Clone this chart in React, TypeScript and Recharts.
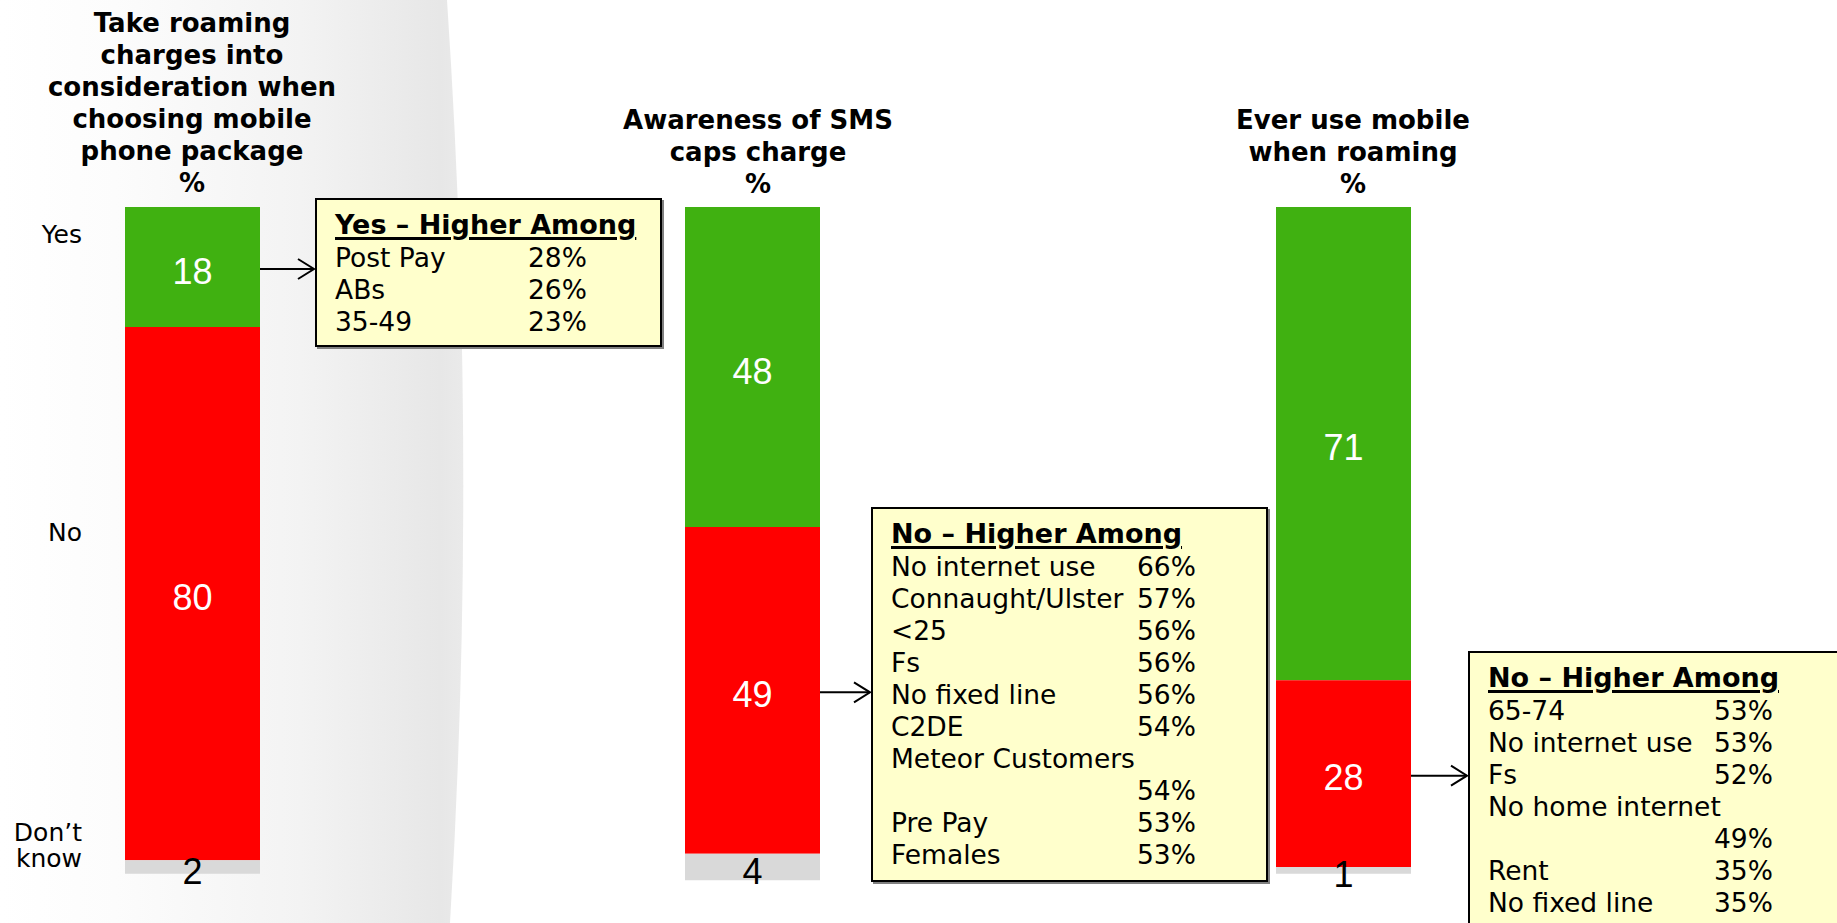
import React from "react";
import { Bar, BarChart, LabelList, XAxis, YAxis } from "recharts";

// question titles (line breaks as on the slide)
const questions = [
  "Take roaming\ncharges into\nconsideration when\nchoosing mobile\nphone package\n%",
  "Awareness of SMS\ncaps charge\n%",
  "Ever use mobile\nwhen roaming\n%",
];
const answers = ["Yes", "No", "Don’t know"];
const yesValues = [18, 48, 71];
const noValues = [80, 49, 28];
const dontKnowValues = [2, 4, 1];

// "higher among" callouts
const calloutTitles = ["Yes – Higher Among", "No – Higher Among", "No – Higher Among"];
const calloutSegment = ["yes", "no", "no"];
const yesHigherLabels = ["Post Pay", "ABs", "35-49"];
const yesHigherValues = [28, 26, 23];
const smsNoLabels = [
  "No internet use",
  "Connaught/Ulster",
  "<25",
  "Fs",
  "No fixed line",
  "C2DE",
  "Meteor Customers",
  "Pre Pay",
  "Females",
];
const smsNoValues = [66, 57, 56, 56, 56, 54, 54, 53, 53];
const roamNoLabels = ["65-74", "No internet use", "Fs", "No home internet", "Rent", "No fixed line"];
const roamNoValues = [53, 53, 52, 49, 35, 35];

const calloutLabels = [yesHigherLabels, smsNoLabels, roamNoLabels];
const calloutValues = [yesHigherValues, smsNoValues, roamNoValues];

const GREEN = "#40B111";
const RED = "#FF0000";
const GREY = "#D9D9D9";
const FONT = '"DejaVu Sans", Verdana, sans-serif';
const NUM_FONT = '"Liberation Sans", Arial, sans-serif';
const ROW_SIZE = 26.5;

const W = 1837;
const H = 923;
const BAR_W = 135;
const BAR_LEFT = [125, 685, 1276];
const TITLE_X = [192, 758, 1353];
const TITLE_TOP = [7, 104, 104];
const BOXES = [
  { left: 315, top: 198, width: 347, height: 149, col: 193 },
  { left: 871, top: 507, width: 397, height: 375, col: 246 },
  { left: 1468, top: 651, width: 420, height: 320, col: 226 },
];

let ctx: CanvasRenderingContext2D | null = null;
function textWidth(t: string) {
  if (!ctx) ctx = document.createElement("canvas").getContext("2d");
  if (!ctx) return 0;
  ctx.font = `${ROW_SIZE}px ${FONT}`;
  return ctx.measureText(t).width;
}

function makeArrow(len: number) {
  return (props: any) => {
    const vb = props.viewBox ?? props;
    const x0 = vb.x + vb.width;
    const cy = vb.y + vb.height / 2 + 2;
    const x1 = x0 + len;
    return (
      <g>
        <line x1={x0} y1={cy} x2={x1 - 1} y2={cy} stroke="#000" strokeWidth={2} />
        <polyline
          points={`${x1 - 17},${cy - 10} ${x1 - 1},${cy} ${x1 - 17},${cy + 10}`}
          fill="none"
          stroke="#000"
          strokeWidth={2}
        />
      </g>
    );
  };
}

function StackBar({ i }: { i: number }) {
  const row = [{ name: questions[i], yes: yesValues[i], no: noValues[i], dk: dontKnowValues[i] }];
  const arrowLen = BOXES[i].left - (BAR_LEFT[i] + BAR_W);
  const arrow = makeArrow(arrowLen);
  const valueLabel = { position: "center" as const, fontSize: 36, fontFamily: NUM_FONT, dy: 4 };
  return (
    <div style={{ position: "absolute", left: BAR_LEFT[i], top: 0 }}>
      <BarChart
        width={BAR_W + arrowLen + 2}
        height={H}
        data={row}
        margin={{ top: 207, right: arrowLen + 2, bottom: 16, left: 0 }}
        barCategoryGap={0}
      >
        <XAxis dataKey="name" hide />
        <YAxis type="number" domain={[0, 105]} reversed hide />
        <Bar dataKey="yes" stackId="s" fill={GREEN} isAnimationActive={false}>
          <LabelList dataKey="yes" {...valueLabel} fill="#fff" />
          {calloutSegment[i] === "yes" && <LabelList dataKey="yes" content={arrow} />}
        </Bar>
        <Bar dataKey="no" stackId="s" fill={RED} isAnimationActive={false}>
          <LabelList dataKey="no" {...valueLabel} fill="#fff" />
          {calloutSegment[i] === "no" && <LabelList dataKey="no" content={arrow} />}
        </Bar>
        <Bar dataKey="dk" stackId="s" fill={GREY} isAnimationActive={false}>
          <LabelList dataKey="dk" {...valueLabel} fill="#000" />
        </Bar>
      </BarChart>
    </div>
  );
}

function Callout({ i }: { i: number }) {
  const b = BOXES[i];
  const lines: { label: string; value: string }[] = [];
  calloutLabels[i].forEach((label, k) => {
    const value = `${calloutValues[i][k]}%`;
    if (textWidth(label) > b.col - 8) {
      lines.push({ label, value: "" });
      lines.push({ label: "", value });
    } else {
      lines.push({ label, value });
    }
  });
  return (
    <div
      style={{
        position: "absolute",
        left: b.left,
        top: b.top,
        width: b.width,
        height: b.height,
        boxSizing: "border-box",
        background: "#FFFFCC",
        border: "2px solid #000",
        boxShadow: "2px 2px 0 #808080",
        padding: "8px 0 0 18px",
        fontSize: ROW_SIZE,
        color: "#000",
      }}
    >
      <div
        style={{
          fontWeight: "bold",
          fontSize: 27,
          lineHeight: "34px",
          textDecoration: "underline",
          textDecorationThickness: "3px",
          textUnderlineOffset: "3px",
          whiteSpace: "nowrap",
        }}
      >
        {calloutTitles[i]}
      </div>
      {lines.map((l, k) => (
        <div key={k} style={{ position: "relative", height: 32, lineHeight: "32px", whiteSpace: "nowrap" }}>
          <span>{l.label}</span>
          <span style={{ position: "absolute", left: b.col, top: 0 }}>{l.value}</span>
        </div>
      ))}
    </div>
  );
}

export default function App() {
  return (
    <div
      style={{
        position: "absolute",
        left: 0,
        top: 0,
        width: W,
        height: H,
        overflow: "hidden",
        background: "#fff",
        fontFamily: FONT,
        color: "#000",
      }}
    >
      <svg width={W} height={H} style={{ position: "absolute", left: 0, top: 0 }}>
        <defs>
          <linearGradient id="panel" x1="0" y1="0" x2="1" y2="0">
            <stop offset="0%" stopColor="#ffffff" />
            <stop offset="25%" stopColor="#fcfcfc" />
            <stop offset="65%" stopColor="#f3f3f3" />
            <stop offset="95%" stopColor="#e7e7e7" />
            <stop offset="100%" stopColor="#eaeaea" />
          </linearGradient>
        </defs>
        <path d="M0,0 L447,0 Q478,460 450,923 L0,923 Z" fill="url(#panel)" />
      </svg>

      {questions.map((q, i) => (
        <div
          key={i}
          style={{
            position: "absolute",
            left: TITLE_X[i] - 200,
            top: TITLE_TOP[i],
            width: 400,
            textAlign: "center",
            fontWeight: "bold",
            fontSize: 26,
            lineHeight: "32px",
          }}
        >
          {q.split("\n").map((line, k) => (
            <div key={k}>{line}</div>
          ))}
        </div>
      ))}

      {/* answer labels on the left */}
      <div style={{ position: "absolute", right: W - 82, top: 222, fontSize: 25, lineHeight: "26px", textAlign: "right" }}>
        {answers[0]}
      </div>
      <div style={{ position: "absolute", right: W - 82, top: 520, fontSize: 25, lineHeight: "26px", textAlign: "right" }}>
        {answers[1]}
      </div>
      <div
        style={{
          position: "absolute",
          right: W - 82,
          top: 820,
          width: 80,
          fontSize: 25,
          lineHeight: "26px",
          textAlign: "right",
        }}
      >
        {answers[2]}
      </div>

      {questions.map((_, i) => (
        <StackBar key={i} i={i} />
      ))}
      {questions.map((_, i) => (
        <Callout key={i} i={i} />
      ))}
    </div>
  );
}
